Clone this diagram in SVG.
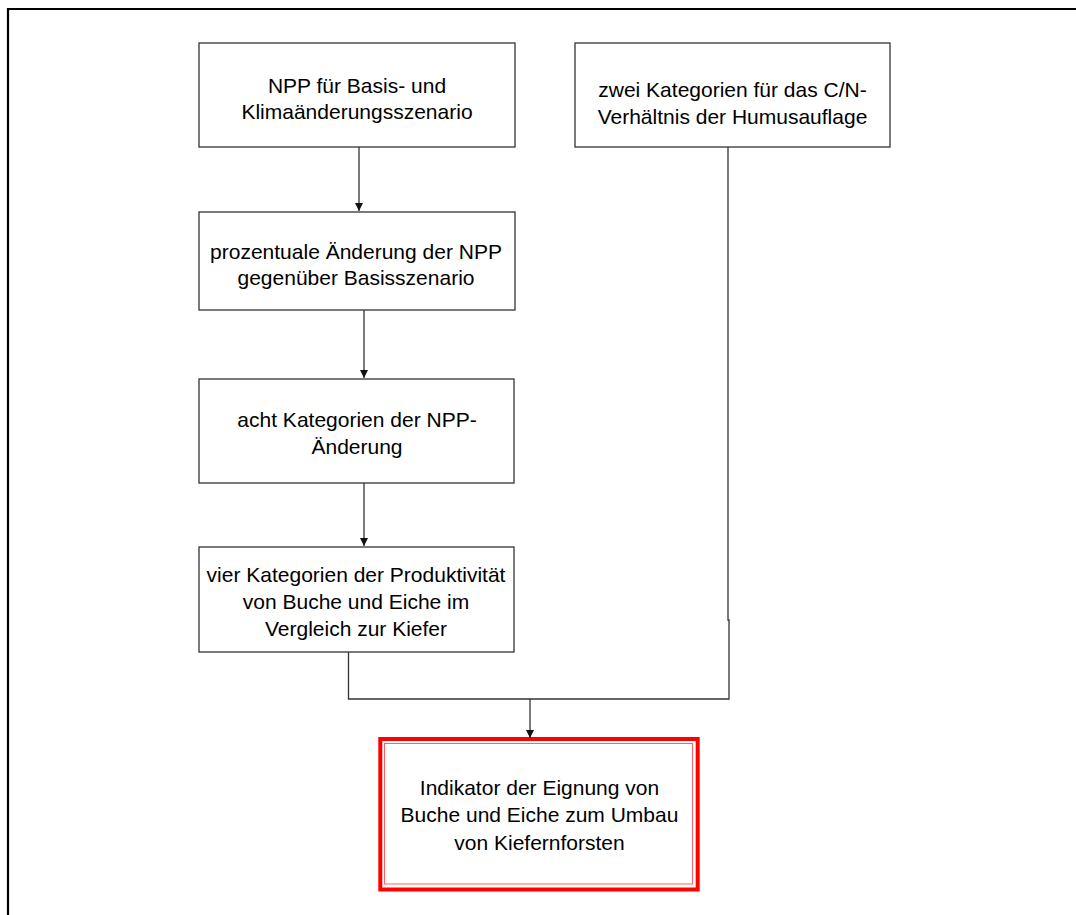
<svg xmlns="http://www.w3.org/2000/svg" width="1076" height="915" viewBox="0 0 1076 915">
<defs>
<style>
.box{fill:#fff;stroke:#333;stroke-width:1.3}
.t{font-family:"Liberation Sans",Arial,sans-serif;font-size:21px;fill:#000;text-anchor:middle}
.c{fill:none;stroke:#333;stroke-width:1.3}
</style>
<marker id="ah" viewBox="0 0 10 10" refX="10" refY="5" markerWidth="8" markerHeight="8" markerUnits="userSpaceOnUse" orient="auto">
<path d="M0,0 L10,5 L0,10 Z" fill="#111"/>
</marker>
</defs>
<rect width="1076" height="915" fill="#fff"/>
<g id="frame">
<path d="M8,915 V9 H1076" fill="none" stroke="#000" stroke-width="2.2"/>
</g>
<g id="n1">
<rect class="box" x="199" y="43" width="316" height="104"/>
<text class="t" x="357" y="93">NPP für Basis- und</text>
<text class="t" x="357" y="119">Klimaänderungsszenario</text>
</g>
<g id="n2">
<rect class="box" x="575" y="43" width="315" height="104"/>
<text class="t" x="732.5" y="97">zwei Kategorien für das C/N-</text>
<text class="t" x="732.5" y="124">Verhältnis der Humusauflage</text>
</g>
<g id="n3">
<rect class="box" x="199" y="212" width="316" height="98"/>
<text class="t" x="356" y="259">prozentuale Änderung der NPP</text>
<text class="t" x="356" y="285">gegenüber Basisszenario</text>
</g>
<g id="n4">
<rect class="box" x="199" y="379" width="315" height="104"/>
<text class="t" x="357" y="427">acht Kategorien der NPP-</text>
<text class="t" x="357" y="454">Änderung</text>
</g>
<g id="n5">
<rect class="box" x="199" y="547" width="315" height="105"/>
<text class="t" x="356" y="582">vier Kategorien der Produktivität</text>
<text class="t" x="356" y="609">von Buche und Eiche im</text>
<text class="t" x="356" y="636">Vergleich zur Kiefer</text>
</g>
<g id="n6">
<rect x="380.3" y="739" width="317.4" height="150.5" fill="#fff" stroke="#ff0000" stroke-width="4"/>
<rect x="384.5" y="743.5" width="308" height="140.5" fill="none" stroke="#ff6060" stroke-width="1"/>
<text class="t" x="539.5" y="795">Indikator der Eignung von</text>
<text class="t" x="539.5" y="822">Buche und Eiche zum Umbau</text>
<text class="t" x="539.5" y="850">von Kiefernforsten</text>
</g>
<g id="connectors">
<path class="c" d="M359,147 V211" marker-end="url(#ah)"/>
<path class="c" d="M364,310 V378" marker-end="url(#ah)"/>
<path class="c" d="M364,483 V546" marker-end="url(#ah)"/>
<path class="c" d="M728,147 V620 H729 V699 H348.5 V652"/>
<path class="c" d="M530,699 V738" marker-end="url(#ah)"/>
</g>
</svg>
